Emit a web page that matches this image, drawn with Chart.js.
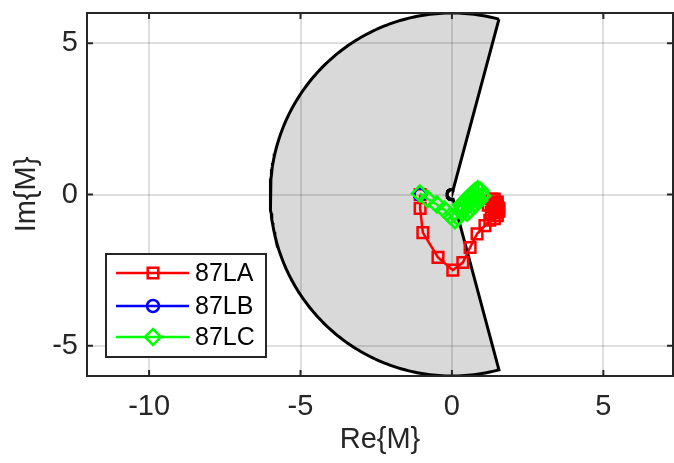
<!DOCTYPE html>
<html>
<head>
<meta charset="utf-8">
<script src="https://cdn.jsdelivr.net/npm/chart.js@4/dist/chart.umd.min.js"></script>
<style>
  body { margin: 0; background: #ffffff; }
  #plot { display: block; }
</style>
</head>
<body>
<canvas id="plot" width="674" height="463"></canvas>
<script>

// Alpha-plane restraint region: outer/inner radius and blocking half-angle (deg).
const alphaRadius = 6;
const alphaAngle = 75;

// Phase element trajectories in the alpha plane.
const phaseALabel = "87LA";
const phaseAX = [-1.05, -1.05, -0.96, -0.46, 0.03, 0.36, 0.6, 0.83, 1.09, 1.25, 1.4, 1.5, 1.55, 1.5, 1.4, 1.3, 1.2, 1.3, 1.45, 1.55, 1.5, 1.4, 1.35, 1.45, 1.5];
const phaseAY = [0.0, -0.46, -1.26, -2.08, -2.5, -2.25, -1.75, -1.3, -1.03, -0.85, -0.8, -0.7, -0.55, -0.4, -0.25, -0.15, -0.35, -0.6, -0.6, -0.45, -0.25, -0.15, -0.4, -0.3, -0.5];

const phaseBLabel = "87LB";
const phaseBX = [-1.05, -1.05, -1.05];
const phaseBY = [0.0, 0.0, 0.0];

const phaseCLabel = "87LC";
const phaseCX = [-1.06, -0.8, -0.5, -0.25, -0.05, 0.1, 0.2, 0.3, 0.35, 0.45, 0.55, 0.65, 0.75, 0.85, 0.95, 1.0, 0.9, 0.8, 0.7, 0.6, 0.5, 0.4, 0.3, 0.45, 0.6, 0.75, 0.85];
const phaseCY = [0.03, -0.15, -0.33, -0.5, -0.7, -0.85, -0.75, -0.55, -0.4, -0.25, -0.1, 0.0, 0.1, 0.17, 0.12, -0.05, -0.2, -0.3, -0.4, -0.5, -0.6, -0.5, -0.35, -0.2, -0.05, 0.05, -0.1];

// Axis limits and tick marks.
const xLimits = [-12.05, 7.3];
const yLimits = [-6, 6];
const xTicks = [-10, -5, 0, 5];
const yTicks = [-5, 0, 5];

const axisColor = "#262626";
const fontFamily = "'Liberation Sans', Arial, Helvetica, sans-serif";


/**
* Zip two arrays into {x, y} points.
*/
function toPoints(xs, ys) {

    return(xs.map((x, i) => ({x: x, y: ys[i]})));

} // End of toPoints()


/**
* Build the closed outline of the restraint region: outer arc, inner arc.
*/
function restraintOutline() {

    var points = [];
    var inner = 1 / alphaRadius;

    for (var a = alphaAngle; a <= 360 - alphaAngle; a++) {
        var r = a * Math.PI / 180;
        points.push({x: alphaRadius * Math.cos(r), y: alphaRadius * Math.sin(r)});
    }
    for (var a = 360 - alphaAngle; a >= alphaAngle; a--) {
        var r = a * Math.PI / 180;
        points.push({x: inner * Math.cos(r), y: inner * Math.sin(r)});
    }
    points.push(points[0]);

    return(points);

} // End of restraintOutline()


/**
* Axes box, inward tick marks and the legend, drawn over the data.
*/
const frameAndLegend = {
    id: "frameAndLegend",
    afterDatasetsDraw(chart) {

        var ctx = chart.ctx;
        var area = chart.chartArea;
        var xs = chart.scales.x;
        var ys = chart.scales.y;
        var tick = 6;

        ctx.save();
        ctx.strokeStyle = axisColor;
        ctx.lineWidth = 2;
        ctx.beginPath();
        xTicks.forEach(v => {
            var px = xs.getPixelForValue(v);
            ctx.moveTo(px, area.bottom); ctx.lineTo(px, area.bottom - tick);
            ctx.moveTo(px, area.top); ctx.lineTo(px, area.top + tick);
        });
        yTicks.forEach(v => {
            var py = ys.getPixelForValue(v);
            ctx.moveTo(area.left, py); ctx.lineTo(area.left + tick, py);
            ctx.moveTo(area.right, py); ctx.lineTo(area.right - tick, py);
        });
        ctx.stroke();
        ctx.strokeRect(area.left, area.top, area.right - area.left, area.bottom - area.top);

        //
        // Legend box in the lower left corner.
        //
        var box = {left: 106, top: 254, width: 160, height: 103};
        ctx.fillStyle = "#ffffff";
        ctx.fillRect(box.left, box.top, box.width, box.height);
        ctx.strokeRect(box.left, box.top, box.width, box.height);

        var rows = [273, 306, 337];
        var entries = chart.data.datasets.filter(d => d.inLegend);
        entries.forEach((d, i) => {
            var y = rows[i];
            ctx.strokeStyle = d.borderColor;
            ctx.lineWidth = d.borderWidth;
            ctx.beginPath();
            ctx.moveTo(116, y);
            ctx.lineTo(189, y);
            ctx.stroke();
            ctx.fillStyle = "rgba(0,0,0,0)";
            ctx.lineWidth = d.pointBorderWidth;
            Chart.helpers.drawPoint(ctx, {
                pointStyle: d.pointStyle,
                radius: d.pointRadius,
                rotation: 0,
                borderWidth: d.pointBorderWidth,
            }, 153, y);
            ctx.fillStyle = "#000000";
            ctx.font = "25px " + fontFamily;
            ctx.textAlign = "left";
            ctx.textBaseline = "middle";
            ctx.fillText(d.label, 195, y + 1);
        });
        ctx.restore();

    }
};


/**
* Series options shared by the three phase elements.
*/
function phaseDataset(label, xs, ys, color, style, radius, order) {

    return({
        label: label,
        inLegend: true,
        data: toPoints(xs, ys),
        showLine: true,
        borderColor: color,
        borderWidth: 2.5,
        pointStyle: style,
        pointRadius: radius,
        pointBorderWidth: 2.5,
        pointBorderColor: color,
        pointBackgroundColor: "rgba(0,0,0,0)",
        backgroundColor: "rgba(0,0,0,0)",
        tension: 0,
        order: order,
        });

} // End of phaseDataset()


var data = {
    datasets: [
        phaseDataset(phaseALabel, phaseAX, phaseAY, "#ff0000", "rect", 7.5, 3),
        phaseDataset(phaseBLabel, phaseBX, phaseBY, "#0000ff", "circle", 6, 2),
        phaseDataset(phaseCLabel, phaseCX, phaseCY, "#00ff00", "rectRot", 8, 1),
        {
            label: "restraint",
            inLegend: false,
            data: restraintOutline(),
            showLine: true,
            fill: "shape",
            backgroundColor: "rgba(0,0,0,0.15)",
            borderColor: "#000000",
            borderWidth: 3,
            pointRadius: 0,
            tension: 0,
            order: 10,
        },
    ],
};

var tickFont = {family: fontFamily, size: 29};
var gridStyle = {color: "rgba(38,38,38,0.15)", lineWidth: 2, drawTicks: false};

/**
* Pin an axis to a fixed thickness with no extra edge padding.
*/
function fixAxis(size) {

    return(function(scale) {
        if (scale.isHorizontal()) {
            scale.height = size;
        } else {
            scale.width = size;
        }
        scale.paddingLeft = 0;
        scale.paddingRight = 0;
        scale.paddingTop = 0;
        scale.paddingBottom = 0;
    });

} // End of fixAxis()

var options = {
    responsive: false,
    animation: false,
    // Markers may run past the box edge, so no automatic padding for them.
    layout: {autoPadding: false, padding: {top: 13, right: 1, left: 0, bottom: 0}},
    scales: {
        x: {
            type: "linear",
            min: xLimits[0],
            max: xLimits[1],
            grid: gridStyle,
            border: {display: false},
            ticks: {font: tickFont, color: axisColor, padding: 14, maxRotation: 0},
            afterBuildTicks: scale => { scale.ticks = xTicks.map(v => ({value: v})); },
            afterFit: fixAxis(87),
            title: {display: true, text: "Re{M}", color: axisColor, font: tickFont, padding: {top: 0, bottom: 6}},
        },
        y: {
            type: "linear",
            min: yLimits[0],
            max: yLimits[1],
            grid: gridStyle,
            border: {display: false},
            ticks: {font: tickFont, color: axisColor, padding: 9},
            afterBuildTicks: scale => { scale.ticks = yTicks.map(v => ({value: v})); },
            afterFit: fixAxis(87),
            title: {display: true, text: "Im{M}", color: axisColor, font: tickFont, padding: {top: 10, bottom: 0}},
        },
    },
    plugins: {
        legend: {display: false},
        tooltip: {enabled: false},
    },
};

new Chart(document.getElementById("plot").getContext("2d"), {
    type: "scatter",
    data: data,
    options: options,
    plugins: [frameAndLegend],
});

</script>
</body>
</html>
